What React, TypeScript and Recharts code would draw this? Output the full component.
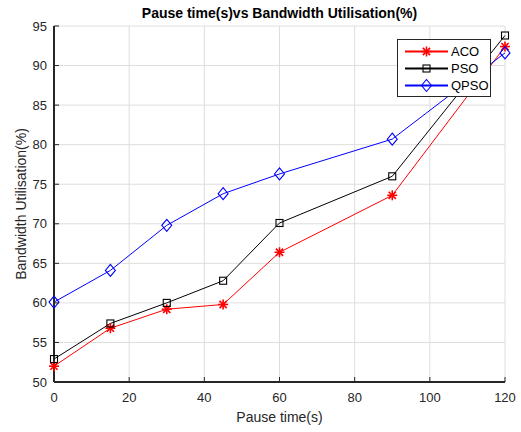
import React from "react";
import { LineChart, Line, XAxis, YAxis, CartesianGrid } from "recharts";

const pauseTimes = [0, 15, 30, 45, 60, 90, 120];
const acoValues = [52.0, 56.8, 59.2, 59.8, 66.4, 73.6, 92.4];
const psoValues = [52.9, 57.4, 60.0, 62.8, 70.1, 76.0, 93.8];
const qpsoValues = [60.1, 64.1, 69.8, 73.8, 76.3, 80.7, 91.6];

const xTicks = [0, 20, 40, 60, 80, 100, 120];
const yTicks = [50, 55, 60, 65, 70, 75, 80, 85, 90, 95];

const data = pauseTimes.map((t, i) => ({
  t,
  aco: acoValues[i],
  pso: psoValues[i],
  qpso: qpsoValues[i],
}));

const FONT = "'Liberation Sans', Arial, Helvetica, sans-serif";
const INK = "#262626";

function Asterisk({ cx, cy }: { cx: number; cy: number }) {
  const r = 5;
  const d = r * 0.72;
  return (
    <g stroke="#ff0000" strokeWidth={1.6}>
      <line x1={cx - r} y1={cy} x2={cx + r} y2={cy} />
      <line x1={cx} y1={cy - r} x2={cx} y2={cy + r} />
      <line x1={cx - d} y1={cy - d} x2={cx + d} y2={cy + d} />
      <line x1={cx - d} y1={cy + d} x2={cx + d} y2={cy - d} />
    </g>
  );
}

function Square({ cx, cy }: { cx: number; cy: number }) {
  return <rect x={cx - 3.5} y={cy - 3.5} width={7} height={7} fill="none" stroke="#000" strokeWidth={1.1} />;
}

function Diamond({ cx, cy }: { cx: number; cy: number }) {
  return (
    <polygon
      points={`${cx},${cy - 6} ${cx + 5},${cy} ${cx},${cy + 6} ${cx - 5},${cy}`}
      fill="none"
      stroke="#0000ff"
      strokeWidth={1.1}
    />
  );
}

const BottomTick = ({ x, y, payload }: any) => (
  <g>
    <line x1={x} x2={x} y1={y} y2={y - 5} stroke={INK} strokeWidth={1} />
    <text x={x} y={y} dy={19.5} textAnchor="middle" fill={INK} fontSize={13} fontFamily={FONT}>
      {payload.value}
    </text>
  </g>
);

const LeftTick = ({ x, y, payload }: any) => (
  <g>
    <line x1={x} x2={x + 5} y1={y} y2={y} stroke={INK} strokeWidth={1} />
    <text x={x - 7} y={y} dy={4.6} textAnchor="end" fill={INK} fontSize={13} fontFamily={FONT}>
      {payload.value}
    </text>
  </g>
);

const TopTick = ({ x, y }: any) => <line x1={x} x2={x} y1={y} y2={y + 5} stroke={INK} strokeWidth={1} />;
const RightTick = ({ x, y }: any) => <line x1={x} x2={x - 5} y1={y} y2={y} stroke={INK} strokeWidth={1} />;

const legendItems = [
  { name: "ACO", color: "#ff0000", Marker: Asterisk },
  { name: "PSO", color: "#000000", Marker: Square },
  { name: "QPSO", color: "#0000ff", Marker: Diamond },
];

function LegendBox() {
  return (
    <div
      style={{
        position: "absolute",
        left: 397,
        top: 39,
        width: 94,
        height: 58,
        boxSizing: "border-box",
        border: `1px solid ${INK}`,
        background: "#fff",
      }}
    >
      <svg width={92} height={56}>
        {legendItems.map(({ name, color, Marker }, i) => {
          const cy = 11.5 + i * 17;
          return (
            <g key={name}>
              <line x1={7} x2={50} y1={cy} y2={cy} stroke={color} strokeWidth={2} />
              <Marker cx={28.5} cy={cy} />
              <text x={53} y={cy} dy={4.6} fontSize={13} fontFamily={FONT} fill="#000">
                {name}
              </text>
            </g>
          );
        })}
      </svg>
    </div>
  );
}

export default function App() {
  return (
    <div style={{ position: "absolute", left: 0, top: 0, width: 521, height: 432, background: "#fff" }}>
      <div
        style={{
          position: "absolute",
          left: 54,
          width: 451,
          top: 5,
          textAlign: "center",
          fontFamily: FONT,
          fontWeight: "bold",
          fontSize: 14,
          lineHeight: "16px",
          color: "#000",
        }}
      >
        Pause time(s)vs Bandwidth Utilisation(%)
      </div>
      <LineChart width={521} height={432} data={data} margin={{ top: 26, right: 16, bottom: 6, left: 0 }}>
        <CartesianGrid stroke="#dedede" strokeWidth={1} />
        <XAxis
          dataKey="t"
          type="number"
          domain={[0, 120]}
          ticks={xTicks}
          interval={0}
          height={44}
          tickSize={0}
          tickMargin={0}
          tickLine={false}
          tick={<BottomTick />}
          axisLine={{ stroke: INK, strokeWidth: 2 }}
          label={{ value: "Pause time(s)", position: "insideBottom", offset: 4, fill: INK, fontSize: 14, fontFamily: FONT }}
        />
        <XAxis
          xAxisId="top"
          orientation="top"
          dataKey="t"
          type="number"
          domain={[0, 120]}
          ticks={xTicks}
          interval={0}
          height={0}
          tickSize={0}
          tickMargin={0}
          tickLine={false}
          tick={<TopTick />}
          axisLine={{ stroke: INK, strokeWidth: 2 }}
        />
        <YAxis
          type="number"
          domain={[50, 95]}
          ticks={yTicks}
          interval={0}
          width={54}
          tickSize={0}
          tickMargin={0}
          tickLine={false}
          tick={<LeftTick />}
          axisLine={{ stroke: INK, strokeWidth: 2 }}
          label={{
            value: "Bandwidth Utilisation(%)",
            angle: -90,
            position: "insideLeft",
            offset: 21,
            fill: INK,
            fontSize: 14,
            fontFamily: FONT,
            style: { textAnchor: "middle" },
          }}
        />
        <YAxis
          yAxisId="right"
          orientation="right"
          type="number"
          domain={[50, 95]}
          ticks={yTicks}
          interval={0}
          width={0}
          tickSize={0}
          tickMargin={0}
          tickLine={false}
          tick={<RightTick />}
          axisLine={{ stroke: INK, strokeWidth: 2 }}
        />
        <Line
          dataKey="aco"
          stroke="#ff0000"
          strokeWidth={1}
          isAnimationActive={false}
          dot={(p: any) => <Asterisk key={`aco-${p.index}`} cx={p.cx} cy={p.cy} />}
        />
        <Line
          dataKey="pso"
          stroke="#000000"
          strokeWidth={1}
          isAnimationActive={false}
          dot={(p: any) => <Square key={`pso-${p.index}`} cx={p.cx} cy={p.cy} />}
        />
        <Line
          dataKey="qpso"
          stroke="#0000ff"
          strokeWidth={1}
          isAnimationActive={false}
          dot={(p: any) => <Diamond key={`qpso-${p.index}`} cx={p.cx} cy={p.cy} />}
        />
      </LineChart>
      <LegendBox />
    </div>
  );
}
